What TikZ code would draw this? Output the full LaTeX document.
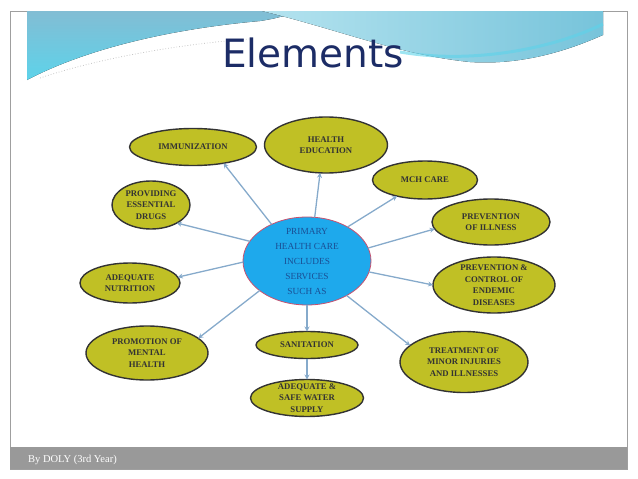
\documentclass[tikz,border=0pt]{standalone}
\usepackage{fontspec}
\setmainfont{Liberation Serif}
\newfontfamily\titlefont{DejaVu Sans}
\usetikzlibrary{arrows.meta,shapes.geometric}

\definecolor{bubfill}{HTML}{C0C025}
\definecolor{hubblue}{HTML}{1EA9EC}
\definecolor{hubrim}{HTML}{C8506E}
\definecolor{hubtext}{HTML}{1A4E94}
\definecolor{arrowblue}{HTML}{86AACB}
\definecolor{titlenavy}{HTML}{1C2C66}
\definecolor{bandsteel}{HTML}{82BDD4}
\definecolor{bandcyan}{HTML}{5DD3EA}
\definecolor{bandlight}{HTML}{B4E3EF}
\definecolor{footgray}{HTML}{999999}

\begin{document}
\begin{tikzpicture}[
  x=1pt, y=-1pt,
  bub/.style={
    ellipse, draw=black!80, line width=1.4pt, fill=bubfill,
    inner sep=-40pt, outer sep=0pt, align=center, text=black!80,
    font=\bfseries\fontsize{8.7}{11.5}\selectfont
  },
  hubnode/.style={
    ellipse, draw=hubrim, line width=0.8pt, fill=hubblue,
    inner sep=-40pt, outer sep=0pt, align=center, text=hubtext,
    font=\fontsize{9.3}{15}\selectfont
  },
  flow/.style ={-{Stealth[length=5pt,width=5pt]}, line width=1.3pt, draw=arrowblue},
  ttl/.style  ={font=\titlefont\fontsize{39}{39}\selectfont, text=titlenavy, anchor=base, inner sep=0pt},
  foot/.style ={font=\fontsize{10.5}{12}\selectfont, text=white, anchor=base west, inner sep=0pt}
]
\useasboundingbox (0,0) rectangle (638,479);

% =================== FRAME + BANNER ===================
\draw[gray!75, line width=0.8pt] (10,11) rectangle (627,469);
\fill[top color=bandsteel, bottom color=bandcyan]
  (27,11) -- (27,80) .. controls (80,52) and (160,30) .. (260,21)
  .. controls (280,18) and (290,14) .. (298,11) -- cycle;
\fill[left color=bandlight, right color=bandsteel!70!bandcyan]
  (262,11) .. controls (340,30) and (400,55) .. (470,62)
  .. controls (530,66) and (580,45) .. (603,35) -- (603,11) -- cycle;
\draw[bandcyan, line width=3pt, opacity=0.6]
  (400,52) .. controls (470,64) and (550,50) .. (603,24);
\draw[gray!45, line width=0.8pt, dotted]
  (40,78) .. controls (100,58) and (180,44) .. (250,39);
\node[ttl] (title) at (313,67) {Elements};

% =================== FOOTER ===================
\fill[footgray] (10,447) rectangle (627,469);
\node[foot] (byline) at (28,462) {By DOLY (3rd Year)};

% =================== HUB ===================
\node[hubnode, minimum width=128, minimum height=88] (hub) at (307,261)
  {PRIMARY\\HEALTH CARE\\INCLUDES\\SERVICES\\SUCH AS};

% =================== SERVICES ===================
\node[bub, minimum width=127, minimum height=37] (immun)  at (193,147) {IMMUNIZATION};
\node[bub, minimum width=123, minimum height=56] (educ)   at (326,145) {HEALTH\\EDUCATION};
\node[bub, minimum width=78,  minimum height=48] (drugs)  at (151,205) {PROVIDING\\ESSENTIAL\\DRUGS};
\node[bub, minimum width=105, minimum height=38] (mch)    at (425,180) {MCH CARE};
\node[bub, minimum width=118, minimum height=46] (previll) at (491,222) {PREVENTION\\OF ILLNESS};
\node[bub, minimum width=122, minimum height=56] (endemic) at (494,285) {PREVENTION \&\\CONTROL OF\\ENDEMIC\\DISEASES};
\node[bub, minimum width=100, minimum height=40] (nutri)  at (130,283) {ADEQUATE\\NUTRITION};
\node[bub, minimum width=122, minimum height=54] (mental) at (147,353) {PROMOTION OF\\MENTAL\\HEALTH};
\node[bub, minimum width=102, minimum height=27] (sanit)  at (307,345) {SANITATION};
\node[bub, minimum width=113, minimum height=37] (water)  at (307,398) {ADEQUATE \&\\SAFE WATER\\SUPPLY};
\node[bub, minimum width=128, minimum height=61] (treat)  at (464,362) {TREATMENT OF\\MINOR INJURIES\\AND ILLNESSES};

% =================== ARROWS ===================
\draw[flow] (hub.134) -- (immun.-28);
\draw[flow] (hub.80)  -- (educ.-102);
\draw[flow] (hub.40)  -- (mch.210);
\draw[flow] (hub.12)  -- (previll.187);
\draw[flow] (hub.-10) -- (endemic.180);
\draw[flow] (hub.-41) -- (treat.163);
\draw[flow] (hub.south) -- (sanit.north);
\draw[flow] (sanit.south) -- (water.north);
\draw[flow] (hub.212) -- (mental.16);
\draw[flow] (hub.181) -- (nutri.7);
\draw[flow] (hub.161) -- (drugs.-35);

\end{tikzpicture}
\end{document}
